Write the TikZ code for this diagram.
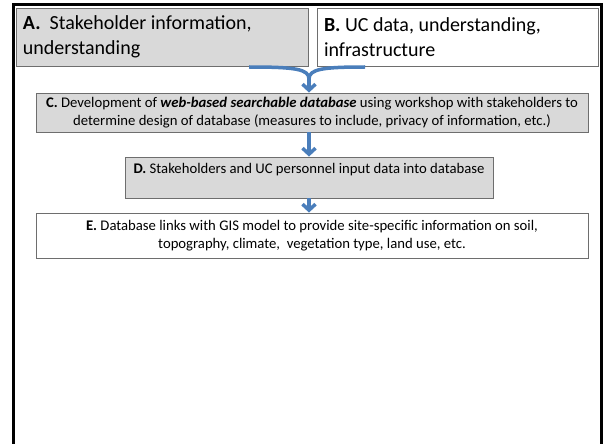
\documentclass[tikz,border=0pt]{standalone}
\usepackage{fontspec}
\setmainfont{Carlito}
\usepackage{xcolor}
\usetikzlibrary{positioning,arrows.meta}

\definecolor{boxgray}{HTML}{D9D9D9}
\definecolor{boxline}{HTML}{6E6E6E}
\definecolor{flowblue}{HTML}{4A7EBB}

\tikzset{
    bigbox/.style={draw=boxline, line width=0.9pt, inner xsep=7pt, inner ysep=0pt,
        align=flush left, font=\fontsize{20}{25}\selectfont},
    stepbox/.style={draw=boxline, line width=0.9pt, inner sep=0pt,
        align=flush center, font=\fontsize{14.7}{18}\selectfont},
    flow/.style={draw=flowblue, line width=3.5pt},
    flowarrow/.style={flow, -{Straight Barb[length=6pt,width=13pt]}}
}

\begin{document}
\begin{tikzpicture}[x=1pt,y=-1pt]
    \useasboundingbox (0,0) rectangle (603,444);

    % Frame
    \draw[line width=3pt] (13,450) -- (13,5) -- (601,5) -- (601,450);

    % Inputs
    \node[bigbox, fill=boxgray, minimum width=292, minimum height=58, text width=278]
        (A) at (162,37) {\textbf{A.}\ \ Stakeholder information,\\understanding};
    \node[bigbox, fill=white, minimum width=281, minimum height=58, text width=267]
        (B) at (457.5,37) {\textbf{B.} UC data, understanding,\\infrastructure};

    % Steps
    \node[stepbox, fill=boxgray, minimum width=552, minimum height=39]
        (C) at (312,112.5) {\textbf{C.} Development of \textbf{\textit{web-based searchable database}} using workshop with stakeholders to\\determine design of database (measures to include, privacy of information, etc.)};
    \node[stepbox, fill=boxgray, minimum width=368, minimum height=41]
        (D) at (309,177.5) {\textbf{D.} Stakeholders and UC personnel input data into database\\~};
    \node[stepbox, fill=white, minimum width=552, minimum height=45]
        (E) at (312,235.5) {\textbf{E.} Database links with GIS model to provide site-specific information on soil,\\topography, climate, \ vegetation type, land use, etc.};

    % Merge of A and B
    \coordinate (bl) at (249,67);
    \coordinate (br) at (365,67);
    \coordinate (mid) at (309,79);
    \draw[flow] (bl) .. controls (295,67) and (309,69) .. (mid);
    \draw[flow] (br) .. controls (323,67) and (309,69) .. (mid);
    \draw[flowarrow] (mid) -- (C.north -| mid);

    % Step arrows
    \draw[flowarrow] (C.south -| mid) -- (D.north -| mid);
    \draw[flowarrow] (D.south -| mid) -- (E.north -| mid);
\end{tikzpicture}
\end{document}
